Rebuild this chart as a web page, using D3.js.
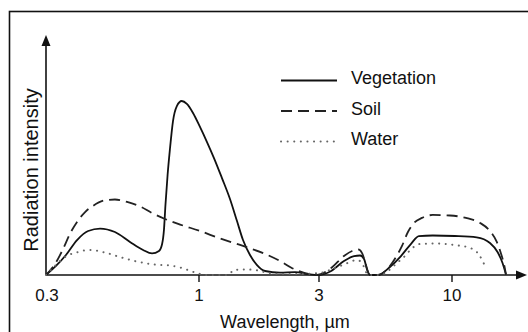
<!DOCTYPE html>
<html>
<head>
<meta charset="utf-8">
<script src="https://cdn.jsdelivr.net/npm/d3@7"></script>
<style>
  body { margin: 0; background: #fff; }
  svg { display: block; }
  text { font-family: "Liberation Sans", Arial, Helvetica, sans-serif; fill: #111; }
</style>
</head>
<body>
<div id="chart"></div>
<script>
// Radiation intensity vs wavelength (µm)
// Intensity is relative, 100 = vegetation peak

const vegWl = [0.3, 0.3245, 0.351, 0.383, 0.418, 0.459, 0.516, 0.581, 0.644, 0.691, 0.730, 0.748, 0.759, 0.768,
  0.781, 0.795, 0.815, 0.840, 0.873, 0.909, 0.954, 1.009, 1.076, 1.147, 1.234, 1.328, 1.416, 1.496, 1.595,
  1.701, 1.830, 2.10, 2.41, 2.76, 3.0, 3.35, 3.76, 4.12, 4.35, 4.51, 4.64, 4.76, 5.12, 5.70, 6.30, 6.89,
  7.41, 8.40, 10.25, 12.5, 14.1, 15.1, 15.8, 16.3];
const vegVal = [0, 5.2, 11.5, 20.1, 25.3, 26.7, 24.7, 19.0, 14.4, 12.4, 13.8, 17.8, 25.9, 40.2,
  57.5, 71.8, 88.5, 97.1, 100, 98.3, 93.1, 85.1, 76.4, 67.2, 55.7, 43.7, 31.0, 20.1, 11.5,
  5.7, 2.3, 1.4, 1.7, 0.3, 0, 2.3, 8.0, 10.9, 11.2, 9.2, 2.9, 0, 0, 4.6, 10.9, 17.8,
  22.4, 22.7, 22.4, 21.6, 18.4, 13.2, 6.9, 0.3];

const soilWl = [0.3, 0.322, 0.343, 0.362, 0.383, 0.408, 0.434, 0.474, 0.516, 0.568, 0.629, 0.691, 0.765,
  0.862, 1.009, 1.212, 1.496, 1.830, 2.10, 2.32, 2.64, 2.95, 3.35, 3.76, 4.05, 4.27, 4.43, 4.59, 4.72,
  5.12, 5.70, 6.02, 6.36, 6.71, 7.09, 7.62, 8.40, 9.82, 11.35, 12.9, 14.1, 15.0, 15.6, 16.0, 16.3];
const soilVal = [0, 6.3, 14.9, 23.6, 30.5, 36.2, 39.7, 42.8, 43.4, 42.0, 39.4, 35.6, 32.2,
  29.0, 25.3, 21.0, 16.7, 12.1, 8.0, 4.3, 1.1, 0, 4.0, 10.9, 13.8, 14.7, 12.6, 5.7, 0.6,
  0, 5.2, 10.3, 16.7, 24.7, 29.9, 32.8, 34.5, 34.2, 32.8, 29.9, 25.3, 19.0, 12.1, 6.3, 0.3];

const waterWl = [0.3, 0.322, 0.348, 0.386, 0.424, 0.477, 0.537, 0.604, 0.707, 0.795, 0.875, 0.947, 1.009,
  1.056, 1.304, 1.378, 1.524, 1.716, 1.847, 2.10, 2.52, 3.0, 3.32, 3.80, 4.23, 4.43, 4.59, 4.67,
  5.21, 5.60, 6.08, 6.53, 6.89, 7.48, 8.57, 10.25, 11.8, 12.7, 13.2, 13.6];
const waterVal = [0, 5.2, 10.3, 13.2, 14.4, 12.9, 10.3, 8.0, 6.0, 5.5, 4.0, 2.0, 0.6,
  0, 0, 2.9, 3.2, 2.6, 1.4, 0.6, 0.6, 1.1, 2.9, 6.3, 8.6, 6.9, 1.7, 0,
  0, 2.3, 6.9, 10.9, 14.7, 17.8, 18.1, 17.2, 15.5, 12.1, 8.0, 3.7];

const tickValues = [0.3, 1, 3, 10];
const tickLabels = ["0.3", "1", "3", "10"];
const seriesNames = ["Vegetation", "Soil", "Water"];

const width = 528;
const height = 332;

const svg = d3.select("#chart")
  .append("svg")
  .attr("width", width)
  .attr("height", height);

// Outer frame of the figure (runs off the right and bottom edges)
svg.append("rect")
  .attr("x", 9.5)
  .attr("y", 11.5)
  .attr("width", 540)
  .attr("height", 340)
  .attr("fill", "none")
  .attr("stroke", "#111")
  .attr("stroke-width", 1.6);

// The printed axis is only roughly logarithmic, so use a piecewise log scale
const x = d3.scaleLog()
  .domain(tickValues)
  .range([46, 199, 319, 452]);

const y = d3.scaleLinear()
  .domain([0, 100])
  .range([275, 101]);

const x0 = x(0.3);
const y0 = y(0);

// Axes
svg.append("line")
  .attr("x1", x0).attr("y1", y0)
  .attr("x2", x0).attr("y2", 42)
  .attr("stroke", "#111").attr("stroke-width", 1.6);
svg.append("path")
  .attr("d", `M${x0},35 L${x0 - 4.5},46 L${x0 + 4.5},46 Z`)
  .attr("fill", "#111");

svg.append("line")
  .attr("x1", x0).attr("y1", y0)
  .attr("x2", 520).attr("y2", y0)
  .attr("stroke", "#111").attr("stroke-width", 1.6);
svg.append("path")
  .attr("d", `M527,${y0} L516,${y0 - 4.5} L516,${y0 + 4.5} Z`)
  .attr("fill", "#111");

// Ticks and tick labels
const ticks = svg.append("g");
ticks.selectAll("line")
  .data(tickValues.slice(1))
  .join("line")
  .attr("x1", d => x(d)).attr("x2", d => x(d))
  .attr("y1", y0).attr("y2", y0 + 7)
  .attr("stroke", "#111").attr("stroke-width", 1.4);
ticks.selectAll("text")
  .data(tickValues)
  .join("text")
  .attr("x", (d, i) => x(d) + (i === 0 ? 1 : 0))
  .attr("y", 301)
  .attr("text-anchor", "middle")
  .attr("font-size", 17)
  .text((d, i) => tickLabels[i]);

// Axis titles
svg.append("text")
  .attr("x", 285)
  .attr("y", 328)
  .attr("text-anchor", "middle")
  .attr("font-size", 18)
  .text("Wavelength, \u00b5m");

svg.append("text")
  .attr("transform", "translate(38,170) rotate(-90)")
  .attr("text-anchor", "middle")
  .attr("font-size", 20)
  .text("Radiation intensity");

// Curves
const styles = [
  { dash: null, width: 1.8, color: "#111", cap: "butt" },
  { dash: "11,6", width: 1.8, color: "#222", cap: "butt" },
  { dash: "0.1,6.5", width: 2, color: "#666", cap: "round" }
];

const series = [
  vegWl.map((w, i) => [w, vegVal[i]]),
  soilWl.map((w, i) => [w, soilVal[i]]),
  waterWl.map((w, i) => [w, waterVal[i]])
];

const line = d3.line()
  .x(d => x(d[0]))
  .y(d => y(d[1]))
  .curve(d3.curveMonotoneX);

svg.append("g")
  .selectAll("path")
  .data(series)
  .join("path")
  .attr("d", line)
  .attr("fill", "none")
  .attr("stroke", (d, i) => styles[i].color)
  .attr("stroke-width", (d, i) => styles[i].width)
  .attr("stroke-dasharray", (d, i) => styles[i].dash)
  .attr("stroke-linecap", (d, i) => styles[i].cap);

// Legend
const legend = svg.append("g");
const legendY = [80.5, 111, 141.5];
legend.selectAll("line")
  .data(seriesNames)
  .join("line")
  .attr("x1", 281).attr("x2", 337)
  .attr("y1", (d, i) => legendY[i]).attr("y2", (d, i) => legendY[i])
  .attr("stroke", (d, i) => styles[i].color)
  .attr("stroke-width", (d, i) => styles[i].width)
  .attr("stroke-dasharray", (d, i) => styles[i].dash)
  .attr("stroke-linecap", (d, i) => styles[i].cap);
legend.selectAll("text")
  .data(seriesNames)
  .join("text")
  .attr("x", 351)
  .attr("y", (d, i) => legendY[i] + 3.5)
  .attr("font-size", 18)
  .text(d => d);
</script>
</body>
</html>
